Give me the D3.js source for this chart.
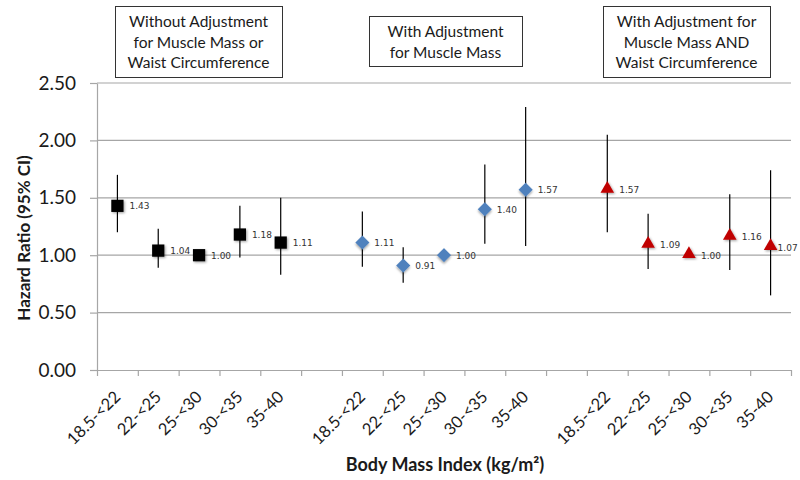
<!DOCTYPE html>
<html>
<head>
<meta charset="utf-8">
<script src="https://cdn.jsdelivr.net/npm/d3@7"></script>
<style>
  body { margin: 0; background: #fff; }
  svg { display: block; }
</style>
</head>
<body>
<svg id="chart" width="800" height="480"></svg>
<script>
  // categories for each model block
  var categories = ["18.5-<22", "22-<25", "25-<30", "30-<35", "35-40"];
  var groupTitles = [
    ["Without Adjustment", "for Muscle Mass or", "Waist Circumference"],
    ["With Adjustment", "for Muscle Mass"],
    ["With Adjustment for", "Muscle Mass AND", "Waist Circumference"]
  ];

  // hazard ratios and 95% CI (null = reference group, no CI)
  var hrUnadj = [1.43, 1.04, 1.00, 1.18, 1.11];
  var loUnadj = [1.20, 0.89, null, 0.98, 0.83];
  var hiUnadj = [1.70, 1.23, null, 1.43, 1.50];

  var hrMuscle = [1.11, 0.91, 1.00, 1.40, 1.57];
  var loMuscle = [0.90, 0.76, null, 1.10, 1.08];
  var hiMuscle = [1.38, 1.07, null, 1.79, 2.29];

  var hrBoth = [1.57, 1.09, 1.00, 1.16, 1.07];
  var loBoth = [1.20, 0.88, null, 0.87, 0.65];
  var hiBoth = [2.05, 1.36, null, 1.53, 1.74];

  var yTicks = [0, 0.5, 1.0, 1.5, 2.0, 2.5];

  var series = [
    { hr: hrUnadj, lo: loUnadj, hi: hiUnadj, shape: "square", color: "#000000" },
    { hr: hrMuscle, lo: loMuscle, hi: hiMuscle, shape: "diamond", color: "#4F81BD" },
    { hr: hrBoth, lo: loBoth, hi: hiBoth, shape: "triangle", color: "#C00000" }
  ];

  // flatten into slots: 5 cats + gap + 5 cats + gap + 5 cats
  var points = [];
  series.forEach(function(s, g) {
    s.hr.forEach(function(v, i) {
      points.push({ slot: g * 6 + i, hr: v, lo: s.lo[i], hi: s.hi[i], shape: s.shape, color: s.color, cat: categories[i] });
    });
  });
  var nSlots = 17;

  var margin = { left: 97, right: 9, top: 83, bottom: 110 };
  var width = 800, height = 480;

  var svg = d3.select("#chart");

  var defs = svg.append("defs");
  var f = defs.append("filter").attr("id", "shadow").attr("x", "-50%").attr("y", "-50%").attr("width", "200%").attr("height", "200%");
  f.append("feDropShadow").attr("dx", 1.2).attr("dy", 1.2).attr("stdDeviation", 0.9)
    .attr("flood-color", "#000").attr("flood-opacity", 0.35);

  var x = d3.scaleLinear().domain([0, nSlots]).range([margin.left, width - margin.right]);
  var y = d3.scaleLinear().domain([0, 2.5]).range([height - margin.bottom, margin.top]);

  // gridlines
  svg.append("g").selectAll("line")
    .data(yTicks.filter(function(d) { return d > 0; }))
    .enter().append("line")
    .attr("x1", x(0)).attr("x2", x(nSlots))
    .attr("y1", function(d) { return y(d); })
    .attr("y2", function(d) { return y(d); })
    .attr("stroke", "#a6a6a6").attr("stroke-width", 1.2);

  // y axis
  var yAxis = svg.append("g")
    .attr("transform", "translate(" + x(0) + ",0)")
    .call(d3.axisLeft(y).tickValues(yTicks).tickFormat(d3.format(".2f")).tickSize(7).tickSizeOuter(0));
  yAxis.select(".domain").attr("stroke", "#a6a6a6").attr("stroke-width", 1.2);
  yAxis.selectAll(".tick line").attr("stroke", "#a6a6a6").attr("stroke-width", 1.2);
  yAxis.selectAll(".tick text")
    .attr("x", -21)
    .style("font-family", "Lato, 'Open Sans', sans-serif")
    .style("font-size", "19px")
    .attr("fill", "#1a1a1a");

  // x axis (ticks between categories, no labels)
  var xAxis = svg.append("g")
    .attr("transform", "translate(0," + y(0) + ")")
    .call(d3.axisBottom(x).tickValues(d3.range(nSlots + 1)).tickFormat("").tickSize(6).tickSizeOuter(0));
  xAxis.select(".domain").attr("stroke", "#a6a6a6").attr("stroke-width", 1.2);
  xAxis.selectAll(".tick line").attr("stroke", "#a6a6a6").attr("stroke-width", 1.2);

  // rotated category labels
  svg.append("g").selectAll("text")
    .data(points)
    .enter().append("text")
    .attr("transform", function(d) {
      return "translate(" + (x(d.slot + 0.5) + 4) + "," + (y(0) + 28) + ") rotate(-45)";
    })
    .attr("text-anchor", "end")
    .style("font-family", "Lato, 'Open Sans', sans-serif")
    .style("font-size", "16.5px")
    .attr("fill", "#1a1a1a")
    .text(function(d) { return d.cat; });

  // error bars
  svg.append("g").selectAll("line")
    .data(points.filter(function(d) { return d.lo !== null; }))
    .enter().append("line")
    .attr("x1", function(d) { return x(d.slot + 0.5); })
    .attr("x2", function(d) { return x(d.slot + 0.5); })
    .attr("y1", function(d) { return y(d.lo); })
    .attr("y2", function(d) { return y(d.hi); })
    .attr("stroke", "#000").attr("stroke-width", 1.2);

  // markers (diamond = square turned 45deg, as in the original)
  var symbolType = { square: d3.symbolSquare, diamond: d3.symbolSquare, triangle: d3.symbolTriangle };
  var symbolSize = { square: 150, diamond: 100, triangle: 80 };
  svg.append("g").selectAll("path")
    .data(points)
    .enter().append("path")
    .attr("transform", function(d) {
      var ty = d.shape === "triangle" ? -1 : 0;
      var rot = d.shape === "diamond" ? " rotate(45)" : "";
      return "translate(" + x(d.slot + 0.5) + "," + (y(d.hr) + ty) + ")" + rot;
    })
    .attr("d", function(d) { return d3.symbol().type(symbolType[d.shape]).size(symbolSize[d.shape])(); })
    .attr("fill", function(d) { return d.color; })
    .attr("filter", "url(#shadow)");

  // data labels
  svg.append("g").selectAll("text")
    .data(points)
    .enter().append("text")
    .attr("x", function(d) { return x(d.slot + 0.5) + (d.slot === nSlots - 1 ? 7 : 12); })
    .attr("y", function(d) { return y(d.hr); })
    .attr("dy", "0.38em")
    .style("font-family", "'DejaVu Sans', sans-serif")
    .style("font-size", "9px")
    .attr("fill", "#333")
    .text(function(d) { return d3.format(".2f")(d.hr); });

  // group title boxes
  var boxes = [
    { x0: 115, x1: 282, y0: 6, y1: 77 },
    { x0: 369, x1: 522, y0: 16, y1: 66 },
    { x0: 603, x1: 770, y0: 6, y1: 77 }
  ];
  boxes.forEach(function(b, g) {
    svg.append("rect")
      .attr("x", b.x0 + 0.5).attr("y", b.y0 + 0.5)
      .attr("width", b.x1 - b.x0).attr("height", b.y1 - b.y0)
      .attr("fill", "#fff").attr("stroke", "#333").attr("stroke-width", 1);
    var lines = groupTitles[g];
    var t = svg.append("text")
      .attr("text-anchor", "middle")
      .style("font-family", "Lato, 'Open Sans', sans-serif")
      .style("font-size", "15.5px")
      .attr("fill", "#1a1a1a");
    lines.forEach(function(l, i) {
      t.append("tspan")
        .attr("x", (b.x0 + b.x1) / 2)
        .attr("y", b.y0 + 21 + i * 20.5)
        .text(l);
    });
  });

  // axis titles
  svg.append("text")
    .attr("transform", "translate(30," + 238 + ") rotate(-90)")
    .attr("text-anchor", "middle")
    .style("font-family", "Lato, 'Open Sans', sans-serif")
    .style("font-size", "17px")
    .style("font-weight", "bold")
    .attr("fill", "#1a1a1a")
    .text("Hazard Ratio (95% CI)");

  svg.append("text")
    .attr("x", 445).attr("y", 471)
    .attr("text-anchor", "middle")
    .style("font-family", "Lato, 'Open Sans', sans-serif")
    .style("font-size", "18px")
    .style("font-weight", "bold")
    .attr("fill", "#1a1a1a")
    .text("Body Mass Index (kg/m²)");
</script>
</body>
</html>
